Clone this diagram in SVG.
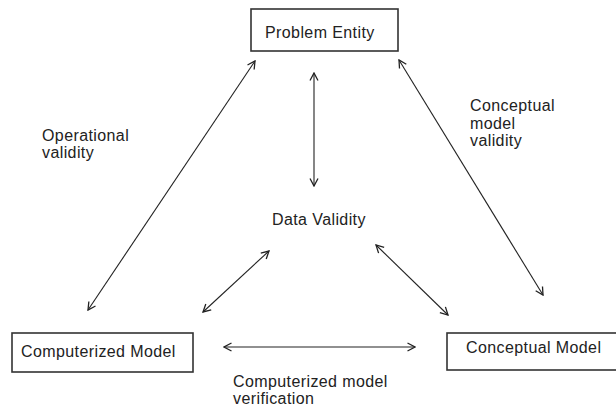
<svg xmlns="http://www.w3.org/2000/svg" width="616" height="408" viewBox="0 0 616 408">
<style>
text{font-family:"Liberation Sans",Arial,sans-serif;font-size:16px;fill:#222;letter-spacing:0.4px}
.box{fill:#fff;stroke:#333;stroke-width:1.6}
.conn{stroke:#222;stroke-width:1.1;fill:none;marker-start:url(#ah);marker-end:url(#ah)}
</style>
<defs>
<marker id="ah" viewBox="0 0 10 10" refX="9" refY="5" markerWidth="10" markerHeight="10" markerUnits="userSpaceOnUse" orient="auto-start-reverse">
<path d="M1.5,1 L9,5 L1.5,9" fill="none" stroke="#222" stroke-width="1.3"/>
</marker>
</defs>
<rect width="616" height="408" fill="#fff"/>
<g id="connectors">
<line class="conn" x1="88" y1="310" x2="255" y2="61"/>
<line class="conn" x1="399" y1="60" x2="543" y2="295"/>
<line class="conn" x1="314" y1="73" x2="314" y2="186"/>
<line class="conn" x1="203" y1="312" x2="269" y2="251"/>
<line class="conn" x1="376" y1="245" x2="448" y2="315"/>
<line class="conn" x1="224" y1="347" x2="415" y2="347"/>
</g>
<g id="problem-entity">
<rect class="box" x="251" y="9" width="147" height="42"/>
<text x="265" y="38">Problem Entity</text>
</g>
<g id="computerized-model">
<rect class="box" x="12" y="333" width="181" height="39"/>
<text x="21" y="357">Computerized Model</text>
</g>
<g id="conceptual-model">
<rect class="box" x="447" y="333" width="175" height="37"/>
<text x="466" y="353">Conceptual Model</text>
</g>
<g id="data-validity">
<text x="272" y="225">Data Validity</text>
</g>
<g id="labels">
<text x="42" y="141">Operational</text>
<text x="42" y="158">validity</text>
<text x="470" y="111">Conceptual</text>
<text x="470" y="128.5">model</text>
<text x="470" y="146">validity</text>
<text x="233" y="387">Computerized model</text>
<text x="233" y="404">verification</text>
</g>
</svg>
